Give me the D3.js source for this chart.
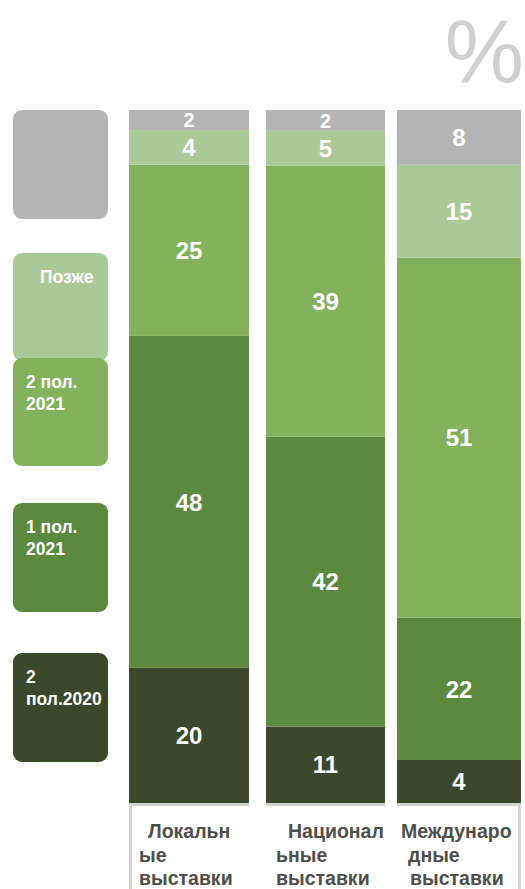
<!DOCTYPE html>
<html><head><meta charset="utf-8">
<script src="https://cdn.jsdelivr.net/npm/d3@7"></script>
<style>body{margin:0;background:#fff}svg{display:block}</style>
</head><body>
<svg id="c" width="525" height="889"></svg>
<script>
// Data
const categories = ["Локальные выставки", "Национальные выставки", "Международные выставки"];
const categoryLines = [["Локальн", "ые", "выставки"], ["Национал", "ьные", "выставки"], ["Междунаро", "дные", "выставки"]];
const seriesNames = ["2 пол.2020", "1 пол. 2021", "2 пол. 2021", "Позже", ""];
// printed labels (%)
const label2020h2 = [20, 11, 4];
const label2021h1 = [48, 42, 22];
const label2021h2 = [25, 39, 51];
const labelLater = [4, 5, 15];
const labelOther = [2, 2, 8];
// segment shares as drawn in the picture (%)
const s2020h2 = [19.5, 11.0, 6.2];
const s2021h1 = [47.9, 41.8, 20.5];
const s2021h2 = [24.7, 39.1, 51.9];
const sLater = [5.0, 5.0, 13.4];
const sOther = [2.9, 3.0, 7.9];
const legendLines = [["2", "пол.2020"], ["1 пол.", "2021"], ["2 пол.", "2021"], ["Позже"], []];
const colors = ["#3b482b", "#5b8a3e", "#84b15b", "#a9ca96", "#b4b4b4"];

const svg = d3.select("#c");
const series = [s2020h2, s2021h1, s2021h2, sLater, sOther];
const labels = [label2020h2, label2021h1, label2021h2, labelLater, labelOther];
const rows = categories.map((c, i) => {
  const o = {cat: c, idx: i};
  series.forEach((s, k) => o["k" + k] = s[i]);
  return o;
});
const keys = series.map((s, k) => "k" + k);
const stack = d3.stack().keys(keys)(rows);

const barLeft = [129, 266, 397], barRight = [249, 385, 521];
const yTop = 110, yBot = 803;
const font = "Liberation Sans, Arial, sans-serif";

categories.forEach((c, i) => {
  const total = d3.sum(series, s => s[i]);
  const y = d3.scaleLinear().domain([0, total]).range([yBot, yTop]);
  const g = svg.append("g");
  stack.forEach((layer, k) => {
    const d = layer[i];
    g.append("rect")
      .attr("x", barLeft[i]).attr("width", barRight[i] - barLeft[i])
      .attr("y", y(d[1])).attr("height", y(d[0]) - y(d[1]))
      .attr("fill", colors[k]);
  });
  stack.forEach((layer, k) => {
    const d = layer[i];
    g.append("text")
      .attr("x", (barLeft[i] + barRight[i]) / 2)
      .attr("y", (y(d[0]) + y(d[1])) / 2)
      .attr("dy", "0.36em")
      .attr("text-anchor", "middle")
      .attr("fill", "#fff")
      .attr("font-family", font)
      .attr("font-weight", "bold")
      .attr("font-size", k === 4 && d[1] - d[0] < 4 ? 20 : 24)
      .text(labels[k][i]);
  });
  // category label box
  const bx = barLeft[i], bw = barRight[i] - barLeft[i];
  svg.append("line").attr("x1", bx).attr("x2", bx + bw).attr("y1", 804.5).attr("y2", 804.5)
    .attr("stroke", "#d3d3d3").attr("stroke-width", 3);
  if (i === 0) svg.append("line").attr("x1", bx + 1.5).attr("x2", bx + 1.5).attr("y1", 803).attr("y2", 889)
    .attr("stroke", "#d3d3d3").attr("stroke-width", 3);
  if (i === 2) svg.append("line").attr("x1", bx + bw - 1.5).attr("x2", bx + bw - 1.5).attr("y1", 803).attr("y2", 889)
    .attr("stroke", "#d3d3d3").attr("stroke-width", 3);
});

// category labels
const labelX = [[148, 139, 139], [288, 276, 276], [401, 408, 410]];
categoryLines.forEach((lines, i) => {
  lines.forEach((t, j) => {
    svg.append("text")
      .attr("x", labelX[i][j]).attr("y", 838 + j * 23.5)
      .attr("fill", "#4f4f4a")
      .attr("font-family", font)
      .attr("font-weight", "bold")
      .attr("font-size", 19.5)
      .text(t);
  });
});

// legend
const legendY = [653, 503, 358, 253, 110];
const legendH = [109, 109, 108, 108, 109];
const legendTextX = [26, 26, 26, 40, 26];
const legendTextY = [683, 533, 388, 283, 0];
const order = [4, 3, 1, 0, 2];
order.forEach(k => {
  svg.append("rect").attr("x", 13).attr("y", legendY[k]).attr("width", 95).attr("height", legendH[k])
    .attr("rx", 9).attr("fill", colors[k]);
  legendLines[k].forEach((t, j) => {
    svg.append("text")
      .attr("x", legendTextX[k]).attr("y", legendTextY[k] + j * 22)
      .attr("fill", "#fff")
      .attr("font-family", font)
      .attr("font-weight", "bold")
      .attr("font-size", 17.5)
      .text(t);
  });
});

// percent sign
svg.append("text").attr("x", 524).attr("y", 82).attr("text-anchor", "end")
  .attr("fill", "#d0d0d0")
  .attr("font-family", font)
  .attr("font-size", 89)
  .text("%");
</script>
</body></html>
